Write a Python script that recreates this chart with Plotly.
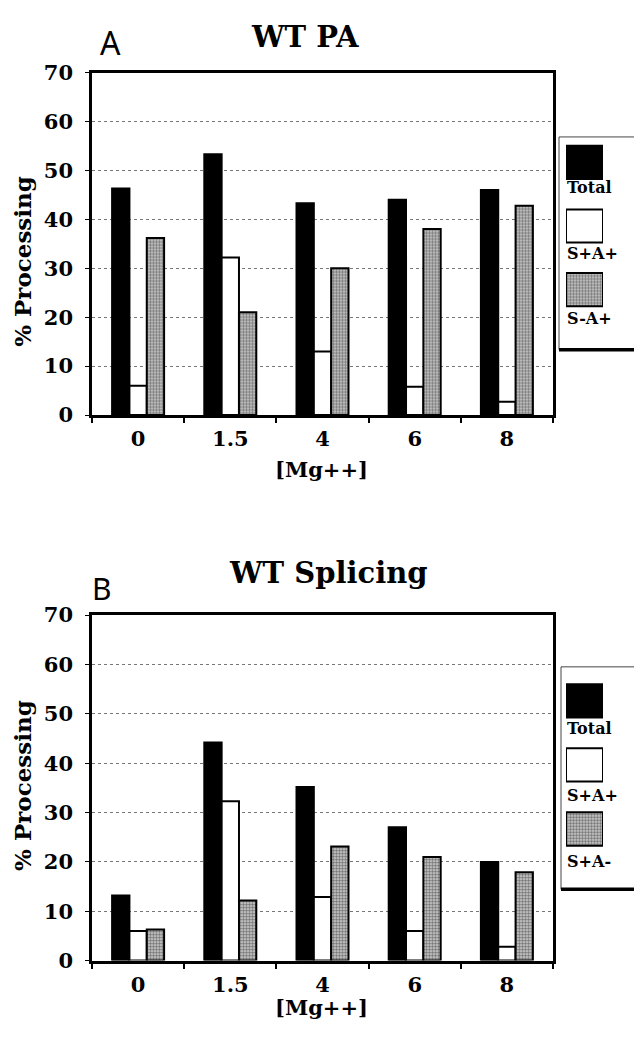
import plotly.graph_objects as go

W, H = 634, 1037

# ---------------- data ----------------
categories = ["0", "1.5", "4", "6", "8"]

pa_total = [46.3, 53.3, 43.3, 44.0, 46.0]
pa_splus_aplus = [6.0, 32.2, 13.0, 5.8, 2.7]
pa_sminus_aplus = [36.2, 21.0, 30.0, 38.0, 42.8]

sp_total = [13.2, 44.2, 35.2, 27.0, 20.0]
sp_splus_aplus = [6.0, 32.3, 12.9, 6.0, 2.8]
sp_splus_aminus = [6.3, 12.2, 23.1, 21.0, 17.9]

names_a = ["Total", "S+A+", "S-A+"]
names_b = ["Total", "S+A+", "S+A-"]

y_ticks = [0, 10, 20, 30, 40, 50, 60, 70]

FONT = "DejaVu Serif"


def px(x):
    return x / W


def py(y):
    return 1 - y / H


styles = [
    dict(color="black", line=dict(color="black", width=2)),
    dict(color="white", line=dict(color="black", width=2)),
    dict(color="#d8d8d8", line=dict(color="black", width=2),
         pattern=dict(shape=".", fgcolor="#111", bgcolor="#d8d8d8", size=3, solidity=0.6)),
]

fig = go.Figure()

for xa, ya, names, series in [
    ("x", "y", names_a, [pa_total, pa_splus_aplus, pa_sminus_aplus]),
    ("x2", "y2", names_b, [sp_total, sp_splus_aplus, sp_splus_aminus]),
]:
    for name, vals, st in zip(names, series, styles):
        fig.add_trace(go.Bar(x=categories, y=vals, name=name, marker=st,
                             xaxis=xa, yaxis=ya, showlegend=False))

# legend swatches (as bars on hidden axes)
for xa, ya, names in [("x3", "y3", names_a), ("x4", "y4", names_b)]:
    for name, st in zip(names, styles):
        fig.add_trace(go.Bar(y=[name], x=[1], orientation="h", marker=st,
                             width=0.52, offset=-0.26, base=0,
                             xaxis=xa, yaxis=ya, showlegend=False))

tickfont = dict(family=FONT, size=21, color="black", weight="bold")

xcommon = dict(type="category", categoryarray=categories, showline=True, linecolor="black",
               linewidth=3, mirror=True, ticks="outside", tickson="boundaries", ticklen=5,
               tickcolor="black", tickwidth=1.5, tickfont=tickfont, showgrid=False,
               ticklabelstandoff=3)
ycommon = dict(range=[0, 70], tickvals=y_ticks, showline=True, linecolor="black", linewidth=2.5,
               mirror=True, ticks="outside", ticklen=4, tickcolor="black", tickfont=tickfont,
               showgrid=True, gridcolor="#777", griddash="dot", gridwidth=1, zeroline=False,
               ticklabelstandoff=8)

fig.update_layout(
    width=W, height=H, margin=dict(l=0, r=0, t=0, b=0),
    paper_bgcolor="white", plot_bgcolor="white",
    barmode="group", bargap=0.436, bargroupgap=0,
    showlegend=False,
    xaxis=dict(domain=[px(92), px(553)], anchor="y", **xcommon),
    yaxis=dict(domain=[py(412), py(61)], anchor="x", **ycommon),
    xaxis2=dict(domain=[px(92), px(553)], anchor="y2", **xcommon),
    yaxis2=dict(domain=[py(971), py(617)], anchor="x2", **ycommon),
    xaxis3=dict(domain=[px(566), px(603)], anchor="y3", range=[0, 1], visible=False),
    yaxis3=dict(domain=[py(316.1), py(120.4)], anchor="x3", type="category",
                categoryarray=names_a, range=[2.5, -0.5], visible=False),
    xaxis4=dict(domain=[px(566), px(603)], anchor="y4", range=[0, 1], visible=False),
    yaxis4=dict(domain=[py(869), py(672)], anchor="x4", type="category",
                categoryarray=names_b, range=[2.5, -0.5], visible=False),
)

ann = []


def text(x, y, s, size, bold=True, angle=0, family=FONT, xanchor="center"):
    ann.append(dict(x=px(x), y=py(y), xref="paper", yref="paper", text=s,
                    showarrow=False, textangle=angle, xanchor=xanchor, yanchor="middle",
                    font=dict(family=family, size=size, color="black",
                              weight="bold" if bold else "normal")))


# titles
text(305, 25, "WT PA", 29)
text(328, 574, "WT Splicing", 29)
text(110, 30, "A", 32, bold=False, family="Noto Sans")
text(102, 590, "B", 30, bold=False, family="Noto Sans")
# axis titles
text(322, 468, "[Mg++]", 21)
text(322, 1019, "[Mg++]", 21)
text(23, 255, "% Processing", 23, angle=-90)
text(23, 792, "% Processing", 23, angle=-90)
# legend labels
for lbl, yy in zip(names_a, [179, 246, 313.5]):
    text(565, yy, lbl, 16, xanchor="left")
for lbl, yy in zip(names_b, [733.5, 801.5, 869.5]):
    text(565, yy, lbl, 16, xanchor="left")

fig.update_layout(annotations=ann)

shapes = []
for (l, t, b) in [(559, 127, 345), (561, 670, 898)]:
    shapes.append(dict(type="rect", xref="paper", yref="paper", x0=px(l), x1=px(W + 10),
                       y0=py(b), y1=py(t), line=dict(color="#444", width=1),
                       fillcolor="rgba(0,0,0,0)", layer="below"))
    shapes.append(dict(type="line", xref="paper", yref="paper", x0=px(l), x1=px(W + 10),
                       y0=py(b), y1=py(b), line=dict(color="black", width=3.5)))
fig.update_layout(shapes=shapes)

fig.write_html("out.html")
